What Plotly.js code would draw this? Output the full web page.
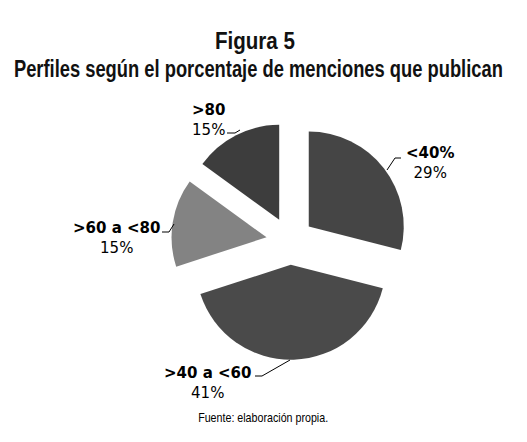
<!DOCTYPE html>
<html>
<head>
<meta charset="utf-8">
<script src="https://cdn.plot.ly/plotly-3.0.1.min.js"></script>
<style>html,body{margin:0;padding:0;background:#fff;}#chart{width:527px;height:442px;}</style>
</head>
<body>
<div id="chart"></div>
<script>
// Data
var categories = ["<40%", ">40 a <60", ">60 a <80", ">80"];
var percentages = [29, 41, 15, 15];
var sliceColors = ["#454545", "#4a4a4a", "#838383", "#3d3d3d"];
var titleLine1 = "Figura 5";
var titleLine2 = "Perfiles según el porcentaje de menciones que publican";
var sourceText = "Fuente: elaboración propia.";

var W = 527, H = 442;
function px(x){ return x / W; }
function py(y){ return 1 - y / H; }
function esc(s){ return s.replace(/&/g,"&amp;").replace(/</g,"&lt;").replace(/>/g,"&gt;"); }

// label block centres (layout) and leader-line paths (layout)
var labelPos = [[430, 163], [207, 383], [116, 238], [208, 120]];
var leaders = [
  [[401,158],[395,158],[387,170]],
  [[255,376],[262,376],[290,360]],
  [[162,232],[169,232],[174,224]],
  [[227,133],[235,133],[240,130]]
];

var cx = 290, cy = 241, R = 95, pull = 0.25;
var half = R * (1 + pull);

var trace = {
  type: "pie",
  labels: categories,
  values: percentages,
  sort: false,
  direction: "clockwise",
  rotation: 0,
  pull: [pull, pull, pull, pull],
  marker: { colors: sliceColors, line: { width: 0 } },
  textinfo: "none",
  hoverinfo: "label+percent",
  showlegend: false,
  domain: { x: [px(cx - half), px(cx + half)], y: [py(cy + half), py(cy - half)] }
};

var annotations = categories.map(function(c, i){
  return {
    xref: "paper", yref: "paper",
    x: px(labelPos[i][0]), y: py(labelPos[i][1]),
    xanchor: "center", yanchor: "middle",
    text: "<b>" + esc(c) + "</b><br>" + percentages[i] + "%",
    showarrow: false,
    font: { family: "DejaVu Sans, Verdana, sans-serif", size: 15, color: "#000" },
    align: "center"
  };
});

var narrowFont = "Liberation Sans, Arial, sans-serif";
annotations.push({
  xref: "paper", yref: "paper", x: px(263), y: py(417),
  xanchor: "center", yanchor: "middle",
  text: sourceText,
  showarrow: false,
  font: { family: narrowFont, size: 13, color: "#000" }
});
annotations.push({
  xref: "paper", yref: "paper", x: px(255), y: py(41),
  xanchor: "center", yanchor: "middle",
  text: "<b>" + titleLine1 + "</b>",
  showarrow: false,
  font: { family: narrowFont, size: 19, color: "#111" }
});
annotations.push({
  xref: "paper", yref: "paper", x: px(258), y: py(69),
  xanchor: "center", yanchor: "middle",
  text: "<b>" + titleLine2 + "</b>",
  showarrow: false,
  font: { family: narrowFont, size: 19, color: "#111" }
});

var shapes = leaders.map(function(pts){
  var d = pts.map(function(p, j){ return (j === 0 ? "M" : "L") + px(p[0]) + "," + py(p[1]); }).join(" ");
  return { type: "path", xref: "paper", yref: "paper", path: d, line: { color: "#000", width: 1 } };
});

var layout = {
  width: W, height: H,
  margin: { l: 0, r: 0, t: 0, b: 0 },
  paper_bgcolor: "#fff",
  plot_bgcolor: "#fff",
  showlegend: false,
  annotations: annotations,
  shapes: shapes
};

// condensed look: width targets and vertical stretch for the title / source texts
var squeeze = {};
squeeze[titleLine1] = [80, 1.22];
squeeze[titleLine2] = [489, 1.22];
squeeze[sourceText] = [130, 1.0];

Plotly.newPlot("chart", [trace], layout, { displayModeBar: false, staticPlot: true }).then(function(gd){
  var texts = gd.querySelectorAll("text.annotation-text");
  texts.forEach(function(t){
    var s = t.textContent;
    if (squeeze[s]) {
      var target = squeeze[s][0], sy = squeeze[s][1];
      var bb = t.getBBox();
      var centre = bb.x + bb.width / 2;
      t.setAttribute("textLength", target);
      t.setAttribute("lengthAdjust", "spacingAndGlyphs");
      var tsp = t.querySelectorAll("tspan");
      var bb2 = t.getBBox();
      var shift = centre - (bb2.x + bb2.width / 2);
      var x0 = parseFloat(t.getAttribute("x")) || 0;
      t.setAttribute("x", x0 + shift);
      tsp.forEach(function(sp){
        if (sp.hasAttribute("x")) sp.setAttribute("x", parseFloat(sp.getAttribute("x")) + shift);
      });
      if (sy !== 1) {
        var bb4 = t.getBBox();
        var c = bb4.y + bb4.height / 2;
        t.setAttribute("transform", "translate(0," + c + ") scale(1," + sy + ") translate(0," + (-c) + ")");
      }
    }
  });
});
</script>
</body>
</html>
